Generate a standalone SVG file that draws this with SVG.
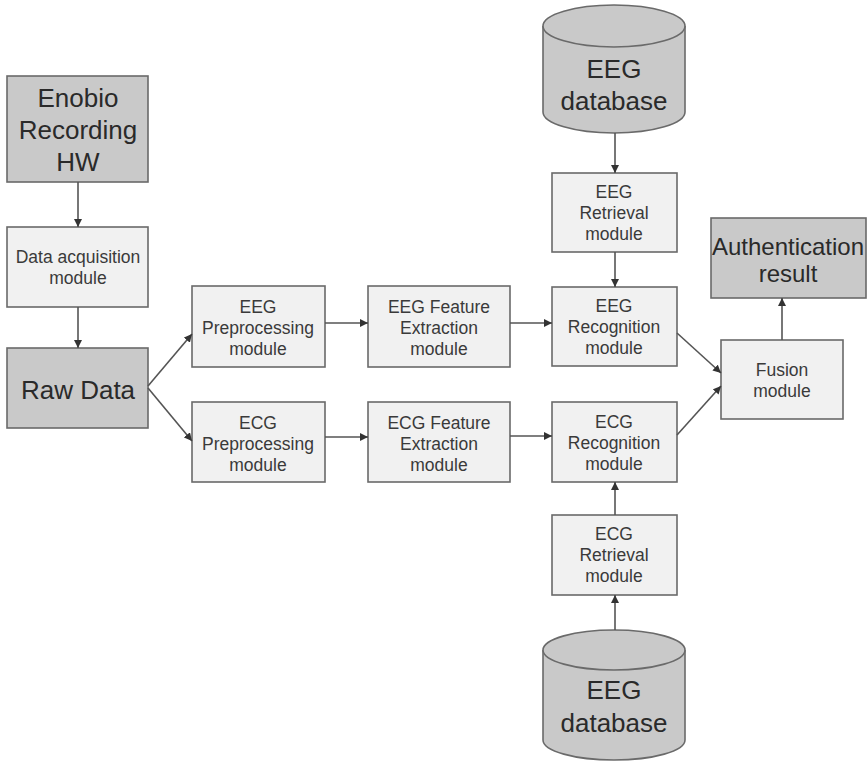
<svg xmlns="http://www.w3.org/2000/svg" width="867" height="763" viewBox="0 0 867 763">
<defs>
<marker id="ah" viewBox="0 0 10 10" refX="10" refY="5" markerWidth="8" markerHeight="8" markerUnits="userSpaceOnUse" orient="auto">
<path d="M0,0 L10,5 L0,10 z" fill="#333"/>
</marker>
<style>
.dark{fill:#c9c9c9;stroke:#6a6a6a;stroke-width:1.6}
.light{fill:#f1f1f1;stroke:#6a6a6a;stroke-width:1.6}
.big{font-family:"Liberation Sans",Arial,sans-serif;font-size:26px;fill:#2a2a2a;text-anchor:middle}
.auth{font-family:"Liberation Sans",Arial,sans-serif;font-size:24px;fill:#2a2a2a;text-anchor:middle}
.sm{font-family:"Liberation Sans",Arial,sans-serif;font-size:17.5px;fill:#3a3a3a;text-anchor:middle}
.con line{stroke:#555;stroke-width:1.6;marker-end:url(#ah)}
</style>
</defs>
<rect width="867" height="763" fill="#fff"/>

<g id="enobio">
<rect class="dark" x="7" y="76" width="141" height="106"/>
<text class="big" x="78" y="107">Enobio</text>
<text class="big" x="78" y="139">Recording</text>
<text class="big" x="78" y="171">HW</text>
</g>
<g id="acquisition">
<rect class="light" x="7" y="227" width="141" height="80"/>
<text class="sm" x="78" y="263">Data acquisition</text>
<text class="sm" x="78" y="284">module</text>
</g>
<g id="rawdata">
<rect class="dark" x="7" y="348" width="141" height="80"/>
<text class="big" x="78" y="399">Raw Data</text>
</g>
<g id="eeg-pre">
<rect class="light" x="192" y="286" width="133" height="81"/>
<text class="sm" x="258" y="313">EEG</text>
<text class="sm" x="258" y="334">Preprocessing</text>
<text class="sm" x="258" y="355">module</text>
</g>
<g id="ecg-pre">
<rect class="light" x="192" y="402" width="133" height="80"/>
<text class="sm" x="258" y="429">ECG</text>
<text class="sm" x="258" y="450">Preprocessing</text>
<text class="sm" x="258" y="471">module</text>
</g>
<g id="eeg-feat">
<rect class="light" x="368" y="286" width="142" height="81"/>
<text class="sm" x="439" y="313">EEG Feature</text>
<text class="sm" x="439" y="334">Extraction</text>
<text class="sm" x="439" y="355">module</text>
</g>
<g id="ecg-feat">
<rect class="light" x="368" y="402" width="142" height="80"/>
<text class="sm" x="439" y="429">ECG Feature</text>
<text class="sm" x="439" y="450">Extraction</text>
<text class="sm" x="439" y="471">module</text>
</g>
<g id="eeg-db">
<path class="dark" d="M543,26 L543,112 A71,21 0 0 0 685,112 L685,26"/>
<ellipse class="dark" cx="614" cy="26" rx="71" ry="21"/>
<text class="big" x="614" y="78">EEG</text>
<text class="big" x="614" y="110">database</text>
</g>
<g id="eeg-ret">
<rect class="light" x="552" y="173" width="125" height="79"/>
<text class="sm" x="614" y="198">EEG</text>
<text class="sm" x="614" y="219">Retrieval</text>
<text class="sm" x="614" y="240">module</text>
</g>
<g id="eeg-rec">
<rect class="light" x="552" y="287" width="125" height="79"/>
<text class="sm" x="614" y="312">EEG</text>
<text class="sm" x="614" y="333">Recognition</text>
<text class="sm" x="614" y="354">module</text>
</g>
<g id="ecg-rec">
<rect class="light" x="552" y="402" width="125" height="80"/>
<text class="sm" x="614" y="428">ECG</text>
<text class="sm" x="614" y="449">Recognition</text>
<text class="sm" x="614" y="470">module</text>
</g>
<g id="ecg-ret">
<rect class="light" x="552" y="515" width="125" height="80"/>
<text class="sm" x="614" y="540">ECG</text>
<text class="sm" x="614" y="561">Retrieval</text>
<text class="sm" x="614" y="582">module</text>
</g>
<g id="ecg-db">
<path class="dark" d="M543,650 L543,740 A71,20 0 0 0 685,740 L685,650"/>
<ellipse class="dark" cx="614" cy="650" rx="71" ry="20"/>
<text class="big" x="614" y="699">EEG</text>
<text class="big" x="614" y="732">database</text>
</g>
<g id="fusion">
<rect class="light" x="721" y="340" width="122" height="79"/>
<text class="sm" x="782" y="376">Fusion</text>
<text class="sm" x="782" y="397">module</text>
</g>
<g id="auth">
<rect class="dark" x="711" y="218" width="155" height="80"/>
<text class="auth" x="788" y="255">Authentication</text>
<text class="auth" x="788" y="282">result</text>
</g>

<g id="connectors" class="con">
<line x1="78" y1="182" x2="78" y2="227"/>
<line x1="78" y1="307" x2="78" y2="348"/>
<line x1="148" y1="386" x2="192" y2="334"/>
<line x1="148" y1="388" x2="192" y2="441"/>
<line x1="325" y1="323" x2="368" y2="323"/>
<line x1="325" y1="437" x2="368" y2="437"/>
<line x1="510" y1="323" x2="552" y2="323"/>
<line x1="510" y1="436" x2="552" y2="436"/>
<line x1="615" y1="133" x2="615" y2="173"/>
<line x1="615" y1="252" x2="615" y2="287"/>
<line x1="615" y1="630" x2="615" y2="595"/>
<line x1="615" y1="515" x2="615" y2="482"/>
<line x1="677" y1="333" x2="721" y2="373"/>
<line x1="677" y1="435" x2="721" y2="386"/>
<line x1="782" y1="340" x2="782" y2="298"/>
</g>
</svg>
